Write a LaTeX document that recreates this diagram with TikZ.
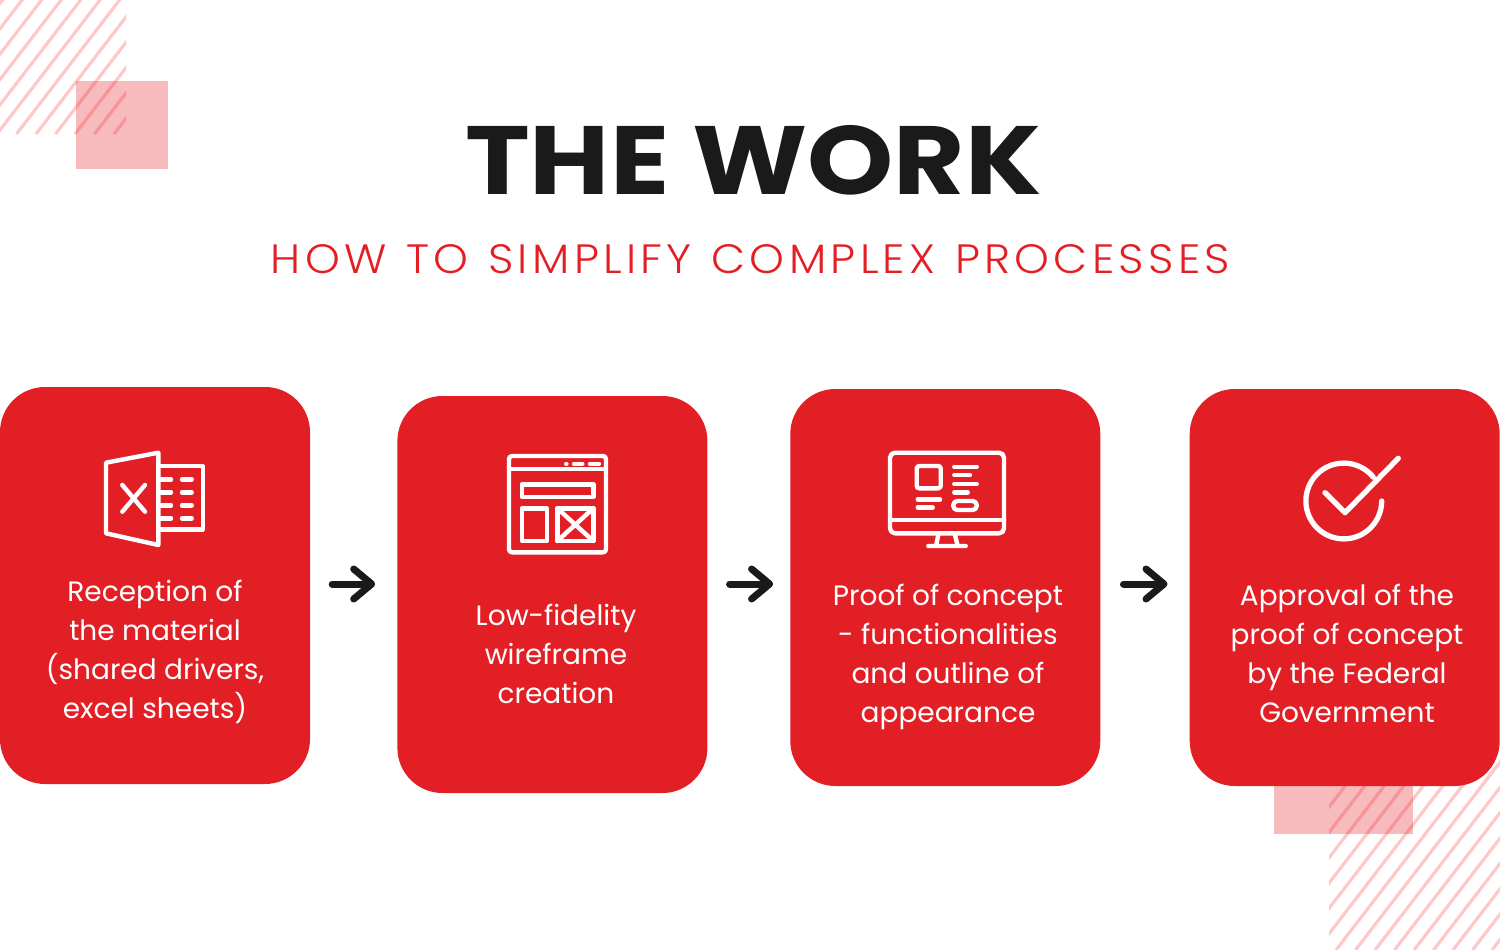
\documentclass[tikz,border=0pt]{standalone}
\usepackage{fontspec}
\setmainfont{Poppins}
\newfontfamily\thinfont[UprightFont=* Light,LetterSpace=10.5,FakeStretch=1.08,WordSpace=1.2]{Poppins}
\newfontfamily\headfont[UprightFont=* Bold,FakeStretch=1.13]{Poppins}
\usetikzlibrary{arrows.meta, positioning}
\definecolor{cardRed}{RGB}{227, 31, 38}
\definecolor{inkBlack}{RGB}{26, 26, 26}
\definecolor{hatchPink}{RGB}{255, 200, 200}

\begin{document}
\begin{tikzpicture}[
    x=1pt, y=-1pt,
    card/.style={rectangle, fill=cardRed, rounded corners=45pt, minimum width=310pt, minimum height=397pt, inner sep=0pt},
    cardtext/.style={text=white, align=center, inner sep=0pt, font=\fontsize{28}{39}\selectfont},
    flow/.style={-{Straight Barb[round, length=18pt, width=30pt]}, line width=7pt, line cap=round, inkBlack},
    hatch/.style={hatchPink, line width=3.2pt},
    patch/.style={fill=cardRed, fill opacity=0.3},
    icon/.style={white, line width=4.4pt, line cap=round, line join=round}
]
    \useasboundingbox (0,0) rectangle (1500,950);

    % Background hatching
    \begin{scope}
        \clip (0,0) rectangle (126,134);
        \foreach \i in {-120,-100.5,...,130} \draw[hatch] (\i,134) -- ++(120,-156);
    \end{scope}
    \begin{scope}
        \clip (1329,750) rectangle (1500,950);
        \foreach \i in {1180,1199.5,...,1510} \draw[hatch] (\i,950) -- ++(200,-260);
    \end{scope}
    \fill[patch] (76,81) rectangle (168,169);
    \fill[patch] (1274,760) rectangle (1413,834);

    % Heading
    \node[inner sep=0pt, inkBlack, font=\fontsize{97}{97}\selectfont\headfont] (heading) at (753.5,160) {THE WORK};
    \node[inner sep=0pt, cardRed, below=49pt of heading, xshift=-3pt, font=\fontsize{41}{41}\selectfont\thinfont] (subheading) {HOW TO SIMPLIFY COMPLEX PROCESSES};

    % Cards
    \node[card] (reception) at (155,585.5) {};
    \node[card, right=87pt of reception, yshift=-9pt] (wireframe) {};
    \node[card, right=82.5pt of wireframe, yshift=7pt] (concept) {};
    \node[card, right=89pt of concept] (approval) {};

    \node[cardtext] (receptiontext) at (155,651.5) {Reception of\\the material\\(shared drivers,\\excel sheets)};
    \node[cardtext] (wireframetext) at (556,654) {Low-fidelity\\wireframe\\creation};
    \node[cardtext] (concepttext) at (948,656.5) {Proof of concept\\- functionalities\\and outline of\\appearance};
    \node[cardtext] (approvaltext) at (1347,653.5) {Approval of the\\proof of concept\\by the Federal\\Government};

    % Arrows
    \coordinate (flowline) at (0,584);
    \draw[flow, shorten <=22pt, shorten >=22pt] (reception.east |- flowline) -- (wireframe.west |- flowline);
    \draw[flow, shorten <=22pt, shorten >=17pt] (wireframe.east |- flowline) -- (concept.west |- flowline);
    \draw[flow, shorten <=23pt, shorten >=22pt] (concept.east |- flowline) -- (approval.west |- flowline);

    % Spreadsheet icon
    \draw[icon] (106,462.7) -- (158.3,452.7) -- (158.3,545) -- (106,533.3) -- cycle;
    \draw[icon] (158.3,466) -- (202.7,466) -- (202.7,529.3) -- (158.3,529.3);
    \draw[icon] (122.3,485) -- (145,511.7) (145,485) -- (122.3,511.7);
    \foreach \y in {479.3,492.3,505.3,518.3} {
        \draw[icon] (158.3,\y) -- (171,\y) (182,\y) -- (191.7,\y);
    }

    % Wireframe icon
    \draw[icon, rounded corners=3pt] (509,456) rectangle (606,552.3);
    \draw[icon] (509,469) -- (606,469);
    \draw[icon] (566.3,463.7) -- (566.4,463.7) (574,463.7) -- (582.3,463.7) (590,463.7) -- (599,463.7);
    \draw[icon] (521.7,484.3) rectangle (593.3,496.7);
    \draw[icon] (521.7,508.3) rectangle (546.7,541);
    \draw[icon] (557.3,508.3) rectangle (593.3,541);
    \draw[icon] (557.3,508.3) -- (593.3,541) (593.3,508.3) -- (557.3,541);

    % Monitor icon
    \draw[icon, rounded corners=5pt] (890,452.7) rectangle (1004,533.3);
    \draw[icon] (890,520) -- (1004,520);
    \draw[icon] (938.3,535) -- (936,546) (955,535) -- (957.7,546) (928.3,546) -- (965.7,546);
    \draw[icon, rounded corners=2.5pt] (916.7,466) rectangle (940.7,488.3);
    \draw[icon] (954.3,466.7) -- (976.7,466.7) (954.3,475) -- (970,475) (954.3,483.7) -- (976.7,483.7) (954.3,492.3) -- (967.7,492.3);
    \draw[icon] (917.7,499.3) -- (940,499.3) (917.7,507.3) -- (932.7,507.3);
    \draw[icon, rounded corners=4pt] (953.3,501) rectangle (976.7,510);

    % Check icon
    \draw[icon, line width=5.3pt] (1325,492.7) -- (1345,512.7) -- (1398.3,458.3);
    \draw[icon, line width=5.3pt] (1373.25,477.15) arc[start angle=-39, delta angle=-321, radius=37.9];
\end{tikzpicture}
\end{document}
